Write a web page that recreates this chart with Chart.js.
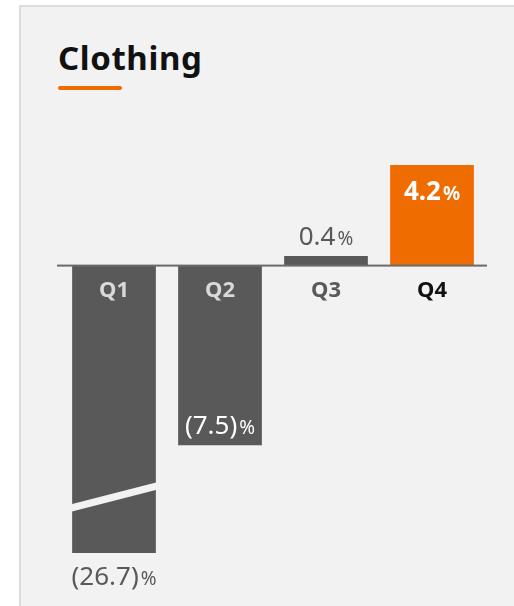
<!DOCTYPE html>
<html>
<head>
<meta charset="utf-8">
<script src="https://cdn.jsdelivr.net/npm/chart.js@4.4.1/dist/chart.umd.min.js"></script>
<style>
  * { box-sizing: border-box; }
  body { margin: 0; background: #fff; font-family: "Noto Sans", sans-serif; width: 514px; height: 606px; overflow: hidden; }
  .panel { position: absolute; left: 19px; top: 5px; right: 0; bottom: 0; background: #f2f2f2; border-top: 2px solid #dcdcdc; border-left: 2px solid #dcdcdc; }
  .title { position: absolute; left: 58px; top: 41px; margin: 0; font-size: 33px; line-height: 1; font-weight: 700; letter-spacing: 0.6px; color: #111; }
  .underline { position: absolute; left: 58px; top: 86px; width: 64px; height: 4px; border-radius: 2px; background: #ef6c00; }
  canvas { position: absolute; left: 0; top: 0; }
</style>
</head>
<body>
<div class="panel"></div>
<h2 class="title">Clothing</h2>
<div class="underline"></div>
<canvas id="chart" width="514" height="606"></canvas>

<script>
// DATA
const quarters = ["Q1", "Q2", "Q3", "Q4"];
const growth = [-26.7, -7.5, 0.4, 4.2];          // % change
const valueText = ["(26.7)", "(7.5)", "0.4", "4.2"];
const axisMin = -12;   // axis is broken here, Q1 gets cut off
const axisMax = 4.2;

const GRAY = "#595959";
const ORANGE = "#ef6c00";

// labels, zero line and the break mark
const decorations = {
  id: "decorations",
  afterDatasetsDraw(chart) {
    const ctx = chart.ctx;
    const area = chart.chartArea;
    const y = chart.scales.y;
    const zero = y.getPixelForValue(0);
    const bars = chart.getDatasetMeta(0).data;

    ctx.save();

    // break mark on the clipped bar
    bars.forEach((bar, i) => {
      if (growth[i] < axisMin) {
        const half = bar.width / 2;
        ctx.strokeStyle = "#f2f2f2";
        ctx.lineWidth = 7;
        ctx.beginPath();
        ctx.moveTo(bar.x - half - 1, area.bottom - 45);
        ctx.lineTo(bar.x + half + 1, area.bottom - 67);
        ctx.stroke();
      }
    });

    // zero line
    ctx.fillStyle = "#6b6b6b";
    ctx.fillRect(area.left - 4, zero - 1, area.right - area.left + 6, 2);

    // quarter labels
    const qColors = ["#d9d9d9", "#d9d9d9", GRAY, "#111111"];
    ctx.textAlign = "center";
    ctx.textBaseline = "middle";
    ctx.font = "700 22px 'Noto Sans'";
    bars.forEach((bar, i) => {
      ctx.fillStyle = qColors[i];
      ctx.fillText(quarters[i], bar.x, zero + 25);
    });

    // value labels
    bars.forEach((bar, i) => {
      const v = growth[i];
      let base, color, weight = "400";
      if (v < axisMin) {
        base = area.bottom + 32; color = GRAY;
      } else if (v < 0) {
        base = y.getPixelForValue(v) - 11; color = "#ffffff";
      } else if (y.getPixelForValue(v) < zero - 60) {
        base = y.getPixelForValue(v) + 35; color = "#ffffff"; weight = "700";
      } else {
        base = y.getPixelForValue(v) - 11; color = GRAY;
      }
      drawValue(ctx, valueText[i], bar.x, base, color, weight);
    });

    ctx.restore();
  }
};

function drawValue(ctx, num, x, base, color, weight) {
  ctx.textBaseline = "alphabetic";
  ctx.textAlign = "left";
  ctx.font = weight + " 26px 'Noto Sans'";
  const w1 = ctx.measureText(num).width;
  ctx.font = weight + " 19px 'Noto Sans'";
  const w2 = ctx.measureText("%").width;
  const gap = 2;
  const start = x - (w1 + gap + w2) / 2;
  ctx.fillStyle = color;
  ctx.font = weight + " 26px 'Noto Sans'";
  ctx.fillText(num, start, base);
  ctx.font = weight + " 19px 'Noto Sans'";
  ctx.fillText("%", start + w1 + gap, base);
}

new Chart(document.getElementById("chart"), {
  type: "bar",
  data: {
    labels: quarters,
    datasets: [
      {
        data: growth,
        backgroundColor: growth.map((v, i) => (i === growth.length - 1 ? ORANGE : GRAY)),
        borderWidth: 0,
        barPercentage: 0.79,
        categoryPercentage: 1,
      },
    ],
  },
  options: {
    responsive: false,
    animation: false,
    events: [],
    layout: { padding: { left: 61, right: 29, top: 165, bottom: 53 } },
    plugins: { legend: { display: false }, tooltip: { enabled: false } },
    scales: {
      x: { display: false },
      y: { display: false, min: axisMin, max: axisMax },
    },
  },
  plugins: [decorations],
});
</script>
</body>
</html>
